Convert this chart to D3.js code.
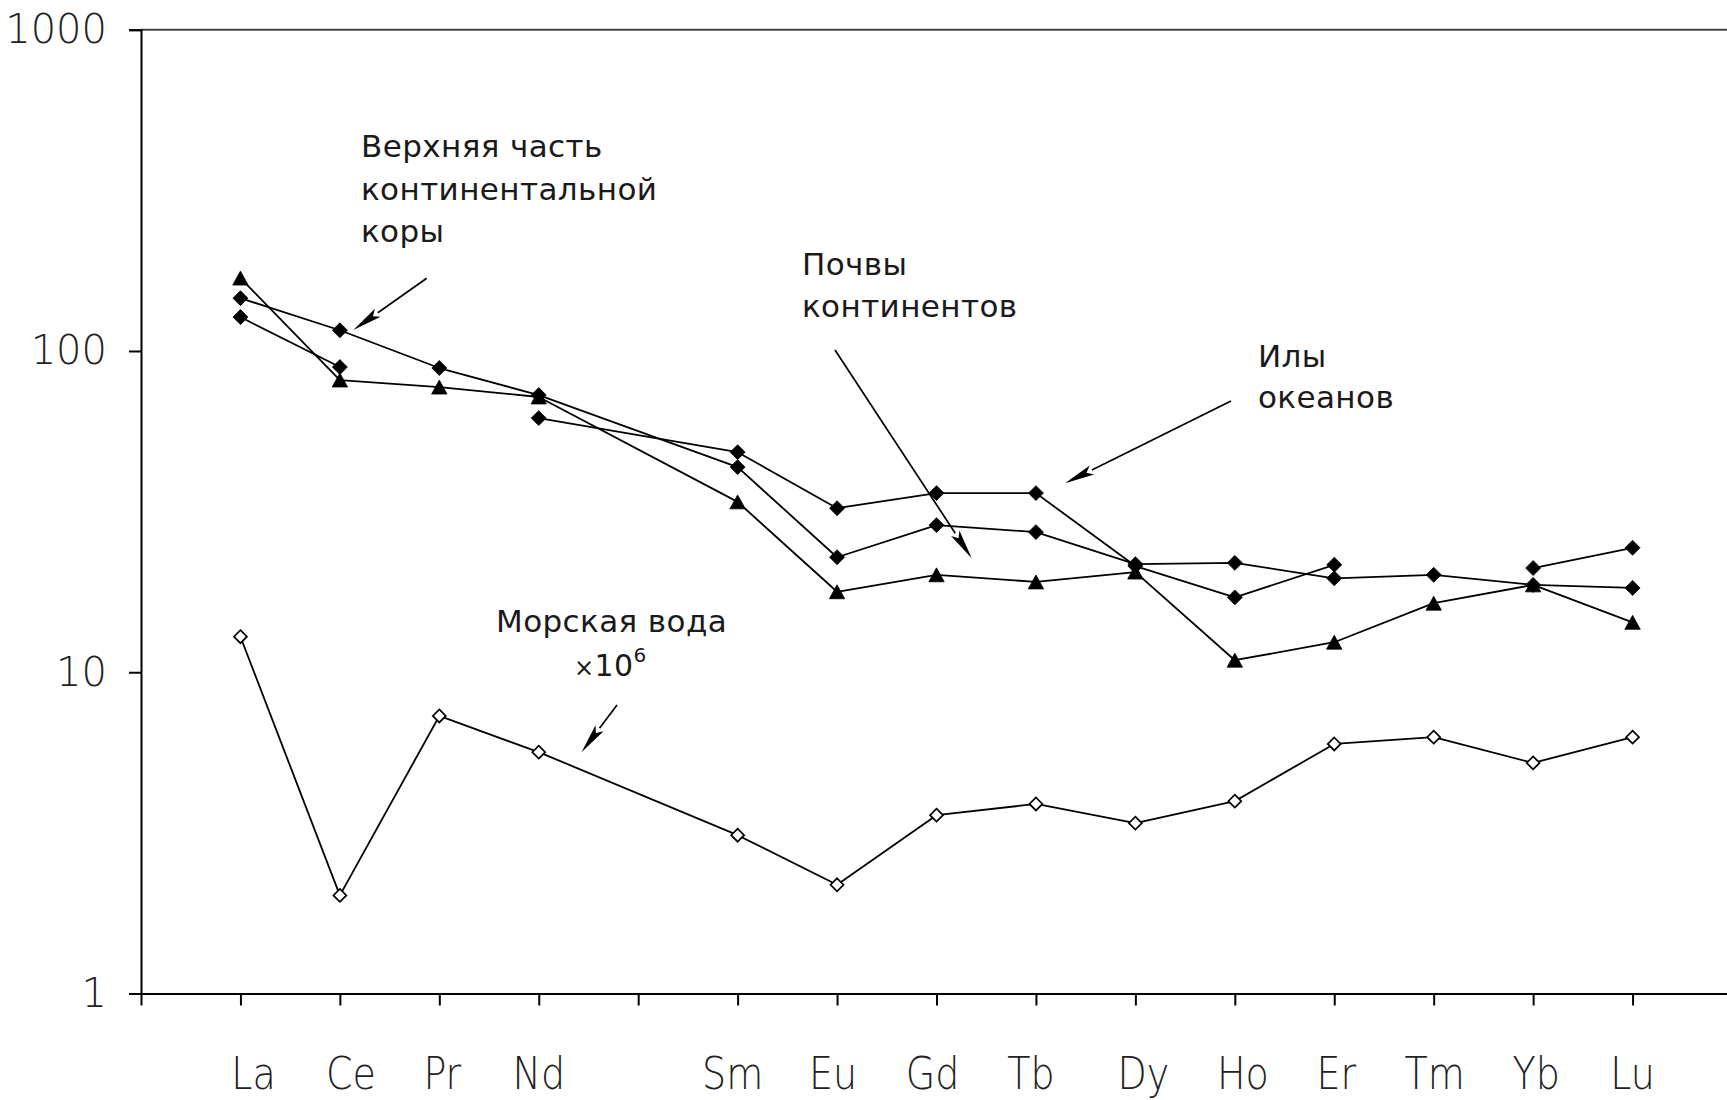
<!DOCTYPE html>
<html>
<head>
<meta charset="utf-8">
<script src="https://cdn.jsdelivr.net/npm/d3@7"></script>
<style>
  html, body { margin: 0; background: #fff; }
  svg { display: block; font-family: "DejaVu Sans", Verdana, sans-serif; }
</style>
</head>
<body>
<svg id="chart" width="1727" height="1100"></svg>
<script>
// Tick positions along the x axis (Pm has a tick but no label or data)
const tickElements = ["La", "Ce", "Pr", "Nd", "Pm", "Sm", "Eu", "Gd", "Tb", "Dy", "Ho", "Er", "Tm", "Yb", "Lu"];
const tickLabels   = ["La", "Ce", "Pr", "Nd", "",   "Sm", "Eu", "Gd", "Tb", "Dy", "Ho", "Er", "Tm", "Yb", "Lu"];
// Elements that carry measurements
const measured = ["La", "Ce", "Pr", "Nd", "Sm", "Eu", "Gd", "Tb", "Dy", "Ho", "Er", "Tm", "Yb", "Lu"];
const yTickValues = [1, 10, 100, 1000];

// Chondrite-normalised REE abundances (null = no data, line broken)
const upperCrust = [146, 116, 88.5, 72.9, 43.5, 22.8, 28.7, 27.3, 21.7, 21.9, 19.6, 20.1, 18.7, 18.3];
const soils      = [168.6, 81.2, 77.2, 71.9, 33.9, 17.8, 20.1, 19.1, 20.5, 10.9, 12.4, 16.4, 18.7, 14.3];
const oceanMuds  = [127.5, 89.1, null, 61.8, 48.4, 32.4, 36.1, 36.1, 21.4, 17.1, 21.6, null, 21.1, 24.4];
const seawater   = [12.9, 2.02, 7.31, 5.64, 3.11, 2.18, 3.59, 3.89, 3.39, 3.97, 5.98, 6.28, 5.22, 6.28];

// Hand-set horizontal nudges of the element labels (px), as typeset under the axis
const labelNudge = [13, 11, 3, 0, 0, -5, -4, -4, -5, 8, 8, 2, 1, 3, 0];

const svg = d3.select("#chart");

const x = d3.scaleLinear().domain([0, 16]).range([141, 1732]);
const y = d3.scaleLog().domain([1, 1000]).range([993.5, 29.7]);
const xOf = el => x(tickElements.indexOf(el) + 1);

// ---- frame and axes ----
svg.append("line")
  .attr("x1", x(0)).attr("x2", 1727).attr("y1", y(1000)).attr("y2", y(1000))
  .attr("stroke", "#444").attr("stroke-width", 2);

const yAxis = d3.axisLeft(y).tickValues(yTickValues).tickFormat(d3.format("d"))
  .tickSize(12).tickPadding(22);
svg.append("g").attr("transform", `translate(${x(0)},0)`).call(yAxis)
  .call(g => g.select(".domain").attr("stroke", "#000").attr("stroke-width", 2))
  .call(g => g.selectAll(".tick line").attr("stroke", "#000").attr("stroke-width", 2))
  .call(g => g.selectAll(".tick text")
    .attr("font-family", "DejaVu Sans, sans-serif")
    .attr("font-weight", 300)
    .attr("font-size", 40).attr("fill", "#222"));

const xAxis = d3.axisBottom(x).tickValues(d3.range(0, tickElements.length + 1))
  .tickFormat(() => "").tickSize(12).tickSizeOuter(0);
svg.append("g").attr("transform", `translate(0,${y(1)})`).call(xAxis)
  .call(g => g.select(".domain").attr("stroke", "#000").attr("stroke-width", 2))
  .call(g => g.selectAll(".tick line").attr("stroke", "#000").attr("stroke-width", 2));

svg.append("g").selectAll("text").data(tickLabels).join("text")
  .attr("transform", (d, i) => `translate(${x(i + 1) + labelNudge[i]},1089) scale(0.95,1.1)`)
  .attr("text-anchor", "middle")
  .attr("font-size", 40)
  .attr("font-weight", 300)
  .attr("fill", "#222")
  .text(d => d);

// ---- series ----
const series = [
  { name: "Почвы континентов", values: soils, marker: "triangle" },
  { name: "Верхняя часть континентальной коры", values: upperCrust, marker: "diamond" },
  { name: "Илы океанов", values: oceanMuds, marker: "diamond" },
  { name: "Морская вода ×10⁶", values: seawater, marker: "open" }
];

const line = d3.line()
  .defined(d => d.v != null)
  .x(d => xOf(d.el))
  .y(d => y(d.v));

const diamond = {
  draw(ctx, size) {
    const r = Math.sqrt(size / 2);
    ctx.moveTo(0, -r); ctx.lineTo(r, 0); ctx.lineTo(0, r); ctx.lineTo(-r, 0); ctx.closePath();
  }
};
const triangle = {
  draw(ctx, size) {
    const w = Math.sqrt(size) * 1.05, h = Math.sqrt(size) * 0.95;
    ctx.moveTo(0, -h / 2); ctx.lineTo(w / 2, h / 2); ctx.lineTo(-w / 2, h / 2); ctx.closePath();
  }
};

series.forEach(s => {
  s.points = measured.map((el, i) => ({ el, v: s.values[i] }));
});

const lines = svg.append("g");
series.forEach(s => {
  lines.append("path")
    .attr("d", line(s.points))
    .attr("fill", "none")
    .attr("stroke", "#000")
    .attr("stroke-width", 1.8)
    .attr("stroke-linejoin", "round");
});

const marks = svg.append("g");
series.forEach(s => {
  const sym = d3.symbol()
    .type(s.marker === "triangle" ? triangle : diamond)
    .size(s.marker === "triangle" ? 215 : s.marker === "open" ? 84 : 112);
  marks.append("g").selectAll("path")
    .data(s.points.filter(p => p.v != null))
    .join("path")
    .attr("transform", d => `translate(${xOf(d.el)},${y(d.v)})`)
    .attr("d", sym)
    .attr("fill", s.marker === "open" ? "#fff" : "#000")
    .attr("stroke", "#000")
    .attr("stroke-width", s.marker === "open" ? 1.7 : 0.8);
});

// ---- annotations ----
const notes = svg.append("g").attr("font-size", 31).attr("letter-spacing", 0.4).attr("fill", "#1a1a1a");
function textBlock(lines, x0, y0, step) {
  lines.forEach((t, i) => notes.append("text").attr("x", x0).attr("y", y0 + i * step).text(t));
}
textBlock(["Верхняя часть", "континентальной", "коры"], 361, 157, 42.5);
textBlock(["Почвы", "континентов"], 802, 275, 42);
textBlock(["Илы", "океанов"], 1258, 367, 41);
textBlock(["Морская вода"], 496, 632, 0);

const sw = notes.append("text").attr("x", 574).attr("y", 676);
sw.append("tspan").attr("font-size", 24).text("×");
sw.append("tspan").attr("font-size", 30).text("10");
sw.append("tspan").attr("font-size", 20).attr("dy", -14).text("6");

function arrow(x1, y1, x2, y2) {
  const len = Math.hypot(x2 - x1, y2 - y1);
  const ux = (x2 - x1) / len, uy = (y2 - y1) / len;
  const head = 30, half = 5;
  const bx = x2 - ux * head, by = y2 - uy * head;
  svg.append("line")
    .attr("x1", x1).attr("y1", y1).attr("x2", bx).attr("y2", by)
    .attr("stroke", "#000").attr("stroke-width", 1.7);
  svg.append("path")
    .attr("d", `M${x2},${y2}L${bx - uy * half},${by + ux * half}L${bx + ux * 6},${by + uy * 6}L${bx + uy * half},${by - ux * half}Z`)
    .attr("fill", "#000");
}
arrow(426.7, 278.3, 353.3, 330);
arrow(835, 350, 971.7, 558.3);
arrow(1231, 401, 1065, 483.3);
arrow(617, 705, 581.5, 752.3);
</script>
</body>
</html>
